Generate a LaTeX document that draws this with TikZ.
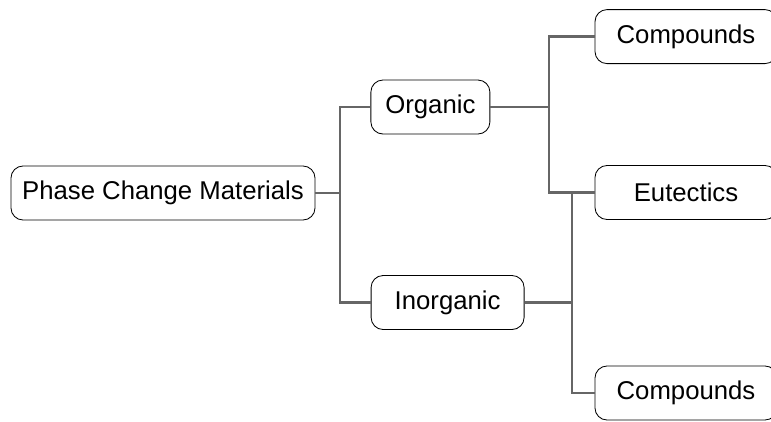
\documentclass[tikz,border=0pt]{standalone}
\usepackage{fontspec}
\setmainfont{Liberation Sans}
\usetikzlibrary{positioning}

\tikzset{
  box/.style={draw=black,line width=0.6pt,rounded corners=0.3cm,minimum height=1.35cm,
    inner sep=0pt,font=\fontsize{18.3}{22}\selectfont},
  leaf/.style={box,minimum width=4.55cm},
  link/.style={draw=black!60,line width=1.7pt}
}

\begin{document}
\begin{tikzpicture}
\useasboundingbox (0,0) rectangle (19.275,-10.525);

% the three levels
\node[box,minimum width=7.6cm] (pcm) at (4.075,-4.825) {Phase Change Materials};
\node[box,minimum width=2.975cm] (org) at (10.76,-2.675) {Organic};
\node[box,minimum width=3.825cm] (inorg) at (11.19,-7.5625) {Inorganic};
\node[leaf] (cmpa) at (17.15,-0.915) {Compounds};
\node[leaf] (eut) at (17.15,-4.8125) {Eutectics};
\node[leaf] (cmpb) at (17.15,-9.825) {Compounds};

% junctions
\coordinate (jpcm) at (8.5,-4.825);
\coordinate (jorg) at (13.725,-2.675);
\coordinate (jinorg) at (14.3,-7.5625);

\draw[link] (pcm.east) -- (jpcm);
\draw[link] (org.west) -| (jpcm) |- (inorg.west);
\draw[link] (org.east) -- (jorg);
\draw[link] (cmpa.west) -| (jorg) |- (eut.west);
\draw[link] (inorg.east) -- (jinorg);
\draw[link] (jinorg |- eut.west) -- (jinorg) |- (cmpb.west);
\end{tikzpicture}
\end{document}
